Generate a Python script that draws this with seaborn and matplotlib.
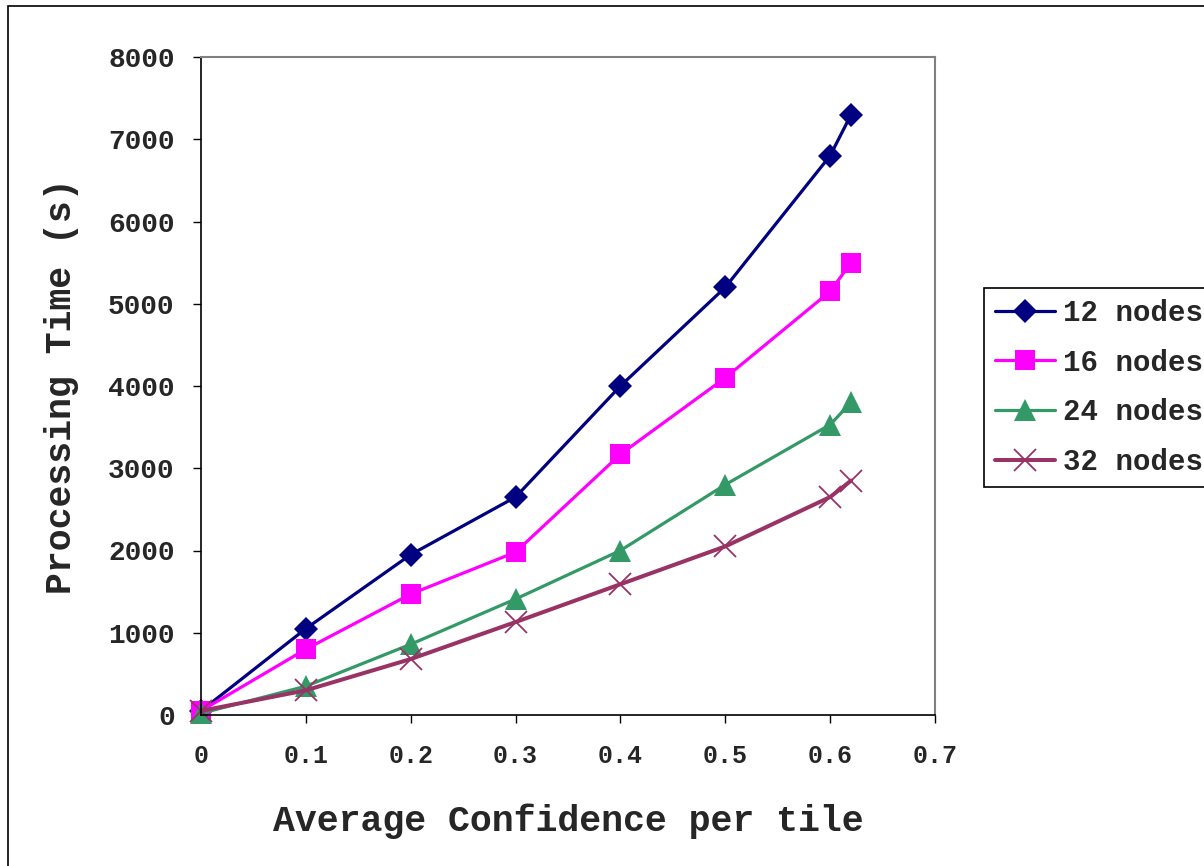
import matplotlib
matplotlib.use("Agg")
import matplotlib.pyplot as plt
import matplotlib.patches as mpatches
import seaborn as sns
import pandas as pd

# ---- data ----
confidence = [0, 0.1, 0.2, 0.3, 0.4, 0.5, 0.6, 0.62]
nodes_12 = [50, 1050, 1950, 2650, 4000, 5200, 6800, 7300]
nodes_16 = [50, 800, 1470, 1980, 3170, 4100, 5150, 5500]
nodes_24 = [20, 350, 860, 1410, 2000, 2800, 3530, 3800]
nodes_32 = [50, 300, 680, 1130, 1590, 2050, 2650, 2850]
series_names = ["12 nodes", "16 nodes", "24 nodes", "32 nodes"]
x_ticks = [0, 0.1, 0.2, 0.3, 0.4, 0.5, 0.6, 0.7]
x_tick_labels = ["0", "0.1", "0.2", "0.3", "0.4", "0.5", "0.6", "0.7"]
y_ticks = [0, 1000, 2000, 3000, 4000, 5000, 6000, 7000, 8000]

rows = []
for name, vals in zip(series_names, [nodes_12, nodes_16, nodes_24, nodes_32]):
    for x, y in zip(confidence, vals):
        rows.append({"conf": x, "time": y, "series": name})
df = pd.DataFrame(rows)

sns.set_style("white")
FONT = ["Liberation Mono", "DejaVu Sans Mono"]
plt.rcParams["font.family"] = FONT
plt.rcParams["font.weight"] = "bold"

fig = plt.figure(figsize=(12.04, 8.66), dpi=100)
ax = fig.add_axes([201/1204, 1-715/866, 734/1204, 658/866])

colors = {"12 nodes": "#000080", "16 nodes": "#FF00FF",
          "24 nodes": "#339966", "32 nodes": "#993366"}
markers = {"12 nodes": "D", "16 nodes": "s", "24 nodes": "^", "32 nodes": "x"}
msize = {"12 nodes": 12.5, "16 nodes": 14, "24 nodes": 16, "32 nodes": 16}
lw = {"12 nodes": 2.3, "16 nodes": 2.3, "24 nodes": 2.3, "32 nodes": 2.9}

for name in series_names:
    sub = df[df["series"] == name]
    sns.lineplot(data=sub, x="conf", y="time", ax=ax, color=colors[name],
                 marker=markers[name], markersize=msize[name],
                 markeredgecolor=colors[name],
                 markeredgewidth=1.3 if name == "32 nodes" else 0,
                 linewidth=lw[name], label=name, sort=False, clip_on=False)

ax.set_xlim(0, 0.7)
ax.set_ylim(0, 8000)
ax.set_xticks(x_ticks)
ax.set_xticklabels(x_tick_labels)
ax.set_yticks(y_ticks)

for s in ["left", "bottom"]:
    ax.spines[s].set_color("black")
    ax.spines[s].set_linewidth(1.2)
for s in ["top", "right"]:
    ax.spines[s].set_color("#808080")
    ax.spines[s].set_linewidth(1.5)
    ax.spines[s].set_visible(True)

ax.tick_params(axis="both", which="major", direction="out", length=6,
               width=1, color="black", left=True, bottom=True)
ax.tick_params(axis="y", pad=13, labelsize=20)
ax.tick_params(axis="x", pad=15, labelsize=18)
for lab in ax.get_xticklabels() + ax.get_yticklabels():
    lab.set_fontweight("bold")
    lab.set_family(FONT)

ax.set_xlabel("Average Confidence per tile", fontsize=26.3, fontweight="bold")
ax.set_ylabel("Processing Time (s)", fontsize=26.3, fontweight="bold")
ax.xaxis.set_label_coords(0.5, -0.135)
ax.yaxis.set_label_coords(-0.166, 0.5)
ax.xaxis.label.set_va("top")

leg = ax.legend(loc="upper left", bbox_to_anchor=(984/1204, 1-288/866),
                bbox_transform=fig.transFigure, frameon=True, fancybox=False,
                shadow=False, prop={"family": FONT, "weight": "bold", "size": 21},
                handlelength=2.05, borderpad=0.38, labelspacing=0.74,
                handletextpad=0.28, borderaxespad=0)
leg.get_frame().set_edgecolor("black")
leg.get_frame().set_linewidth(1.2)
leg.get_frame().set_alpha(1)

# outer chart border (only top and left edges inside the picture)
border = mpatches.Rectangle((8/1204, -0.1), 1.2, 1-6/866+0.1,
                            transform=fig.transFigure, fill=False,
                            edgecolor="black", linewidth=1.2, clip_on=False)
fig.patches.append(border)

fig.savefig("out.png", dpi=100, facecolor="white")
